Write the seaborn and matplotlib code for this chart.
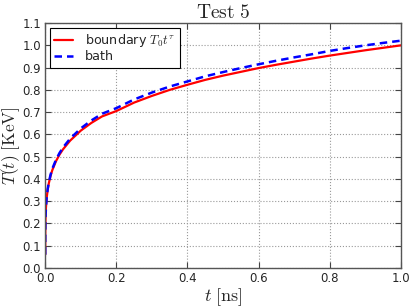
import numpy as np
import pandas as pd
import matplotlib
matplotlib.use('Agg')
import matplotlib.pyplot as plt
import seaborn as sns

# values
t_ns = [0.0, 0.0001, 0.0005, 0.001, 0.002, 0.004, 0.007, 0.01, 0.015, 0.02,
        0.03, 0.04, 0.05, 0.07, 0.1, 0.13, 0.16, 0.2, 0.25, 0.3, 0.35, 0.4,
        0.45, 0.5, 0.55, 0.6, 0.65, 0.7, 0.75, 0.8, 0.85, 0.9, 0.95, 1.0]
boundary = [0.06, 0.145, 0.203, 0.234, 0.271, 0.314, 0.353, 0.380, 0.414, 0.440,
            0.479, 0.509, 0.533, 0.572, 0.617, 0.652, 0.681, 0.705, 0.743, 0.773,
            0.800, 0.823, 0.845, 0.864, 0.881, 0.898, 0.913, 0.927, 0.941, 0.954,
            0.966, 0.978, 0.989, 1.000]
bath = [0.06, 0.145, 0.203, 0.235, 0.272, 0.316, 0.356, 0.384, 0.419, 0.446,
        0.485, 0.516, 0.541, 0.581, 0.627, 0.663, 0.693, 0.718, 0.757, 0.788,
        0.815, 0.838, 0.861, 0.880, 0.898, 0.915, 0.931, 0.946, 0.960, 0.975,
        0.988, 1.000, 1.011, 1.021]

df = pd.DataFrame({'t': t_ns, 'boundary': boundary, 'bath': bath})

sns.set_style('ticks')
plt.rcParams['font.family'] = ['DejaVu Sans']
plt.rcParams['mathtext.fontset'] = 'cm'

fig = plt.figure(figsize=(4.15, 3.08), dpi=100)
ax = fig.add_axes([0.109, 0.13, 0.857, 0.795])

sns.lineplot(data=df, x='t', y='boundary', ax=ax, color='red', linewidth=1.6,
             label=r'boundary $T_0t^\tau$')
sns.lineplot(data=df, x='t', y='bath', ax=ax, color='blue', linewidth=1.8,
             linestyle=(0, (3, 2)), label='bath')

ax.set_xlim(0, 1)
ax.set_ylim(0, 1.1)
ax.set_xticks(np.arange(0, 1.01, 0.2))
ax.set_yticks(np.arange(0, 1.11, 0.1))
ax.xaxis.set_major_formatter(matplotlib.ticker.FormatStrFormatter('%.1f'))
ax.yaxis.set_major_formatter(matplotlib.ticker.FormatStrFormatter('%.1f'))
ax.tick_params(direction='in', top=True, right=True, labelsize=8.5, length=4,
               width=0.8, color='#444444', pad=3)
ax.grid(True, linestyle=':', color='#999999', linewidth=0.8)

for side in ax.spines.values():
    side.set_color('#555555')
    side.set_linewidth(1.0)

ax.set_title(r'$\mathrm{Test\ 5}$', fontsize=14, pad=4)
ax.set_xlabel(r'$t\ [\mathrm{ns}]$', fontsize=13, labelpad=1)
ax.set_ylabel(r'$T(t)\ [\mathrm{KeV}]$', fontsize=12.5, labelpad=0)

leg = ax.legend(loc='upper left', fontsize=9.2, fancybox=False, framealpha=1,
                edgecolor='black', handlelength=1.5, handletextpad=0.9,
                borderpad=0.35, labelspacing=0.1, borderaxespad=0.35)
leg.get_frame().set_linewidth(0.8)

fig.savefig('out.png', dpi=100)
plt.close(fig)
